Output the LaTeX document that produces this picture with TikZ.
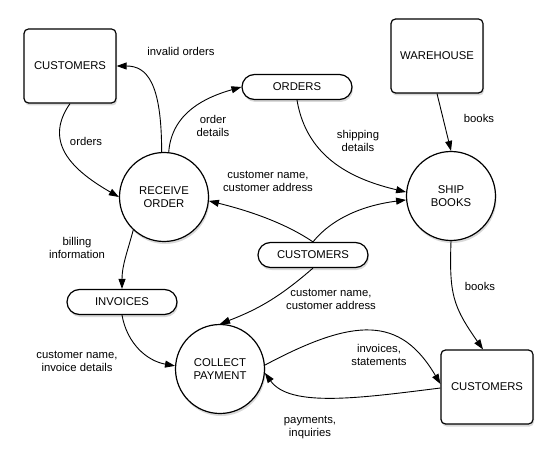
\documentclass[tikz,border=0pt]{standalone}
\usepackage{fontspec}
\setmainfont{Liberation Sans}
\usetikzlibrary{arrows.meta,shadows}

\begin{document}
\begin{tikzpicture}[x=1pt,y=1pt,font=\fontsize{11.3}{13}\selectfont,
  shade/.style={drop shadow={shadow xshift=1pt,shadow yshift=-2.5pt,opacity=0.3}},
  store/.style={draw,line width=1.2pt,rounded corners=4.5pt,fill=white,minimum width=92pt,minimum height=74pt,shade},
  proc/.style={draw,circle,line width=1.2pt,fill=white,minimum size=89pt,align=center,shade},
  data/.style={draw,line width=1.2pt,rounded corners=12.5pt,fill=white,minimum width=110pt,minimum height=25pt,shade},
  flow/.style={draw,line width=0.9pt,-{Triangle[length=10pt,width=7pt]}},
  lbl/.style={align=center,inner sep=0pt}]
\useasboundingbox (0,0) rectangle (556,-454);

\node[store] (cust1) at (70,-66) {CUSTOMERS};
\node[store] (ware) at (437,-56) {WAREHOUSE};
\node[store] (cust3) at (487,-387) {CUSTOMERS};
\node[data] (orders) at (297,-87) {ORDERS};
\node[data] (custs) at (313,-255) {CUSTOMERS};
\node[data] (invoices) at (122,-302) {INVOICES};
\node[proc] (rcv) at (164,-197) {RECEIVE\\ORDER};
\node[proc] (ship) at (451,-196) {SHIP\\BOOKS};
\node[proc] (collect) at (220,-369) {COLLECT\\PAYMENT};

\path[flow] (cust1.south) to[out=-125,in=150,looseness=1.2] (rcv.west);
\path[flow] (rcv.93) .. controls +(0,70) and +(30,0) .. (cust1.east);
\path[flow] (rcv.84) .. controls +(3,40) and +(-35,-10) .. (orders.west);
\path[flow] (orders.south) .. controls +(10,-60) and +(-50,12) .. (ship.175);
\path[flow] (ware.south) -- (ship.north);
\path[flow] (custs.north) .. controls +(-25,17) and +(45,-11) .. (rcv.-5);
\path[flow] (custs.north) .. controls +(20,25) and +(-40,-5) .. (ship.185);
\path[flow] (custs.south) to[bend left=10] (collect.north);
\path[flow] (rcv.-133) to[out=-105,in=90] (invoices.north);
\path[flow] (invoices.south) to[out=-80,in=170] (collect.176);
\path[flow] (ship.south) to[out=-92,in=125,looseness=1.2] ([xshift=-4pt]cust3.north);
\path[flow] (collect.5) .. controls +(90,48) and +(-40,68) .. ([yshift=3pt]cust3.west);
\path[flow] ([yshift=-1pt]cust3.west) .. controls +(-80,-10) and +(25,-35) .. (collect.-5);

\node[lbl] (l-orders) at (86,-141) {orders};
\node[lbl] (l-invalid) at (181,-51) {invalid orders};
\node[lbl] (l-details) at (213,-126) {order\\details};
\node[lbl] (l-shipping) at (358,-141) {shipping\\details};
\node[lbl] (l-books1) at (479,-118) {books};
\node[lbl] (l-custrcv) at (268,-181) {customer name,\\customer address};
\node[lbl] (l-custpay) at (331,-299) {customer name,\\customer address};
\node[lbl] (l-billing) at (77,-248) {billing\\information};
\node[lbl] (l-invoice) at (77,-361) {customer name,\\invoice details};
\node[lbl] (l-books2) at (480,-286) {books};
\node[lbl] (l-statements) at (379,-355) {invoices,\\statements};
\node[lbl] (l-payments) at (310,-428) {payments,\\inquiries};
\end{tikzpicture}
\end{document}
